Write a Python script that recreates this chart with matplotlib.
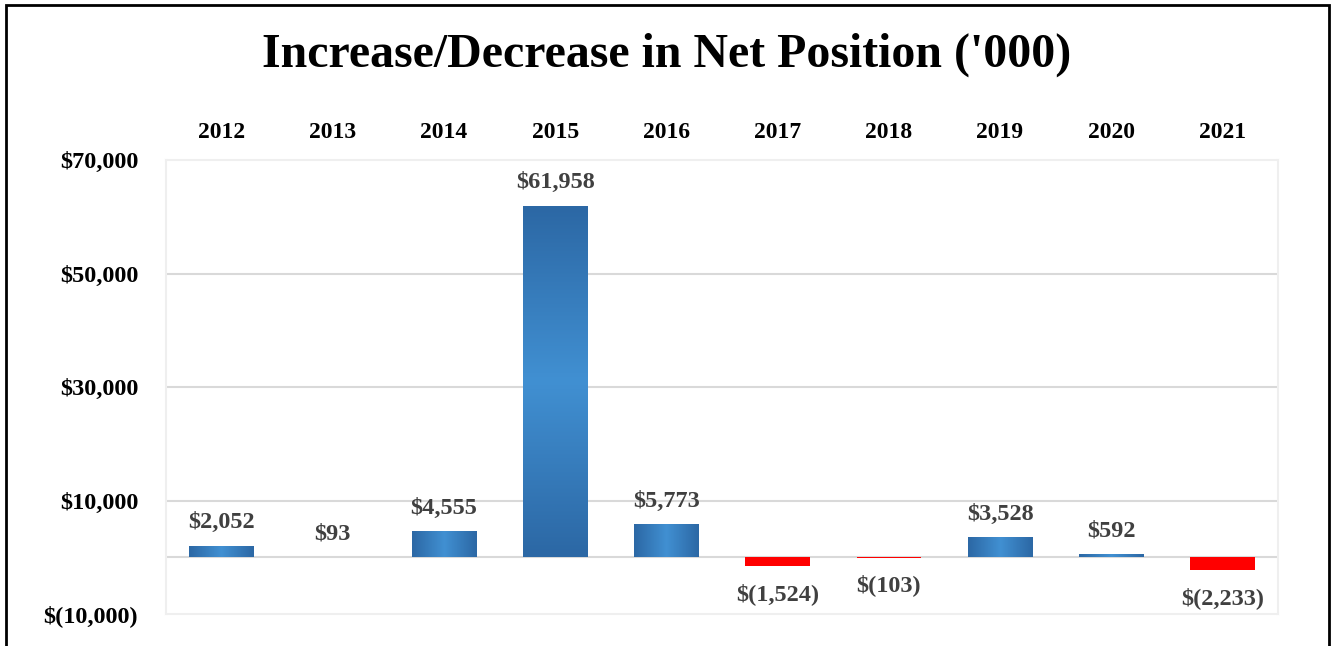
import numpy as np
import matplotlib
matplotlib.use("Agg")
import matplotlib.pyplot as plt
from matplotlib.patches import Rectangle
from matplotlib.colors import LinearSegmentedColormap

plt.rcParams['font.family'] = ['Liberation Serif', 'DejaVu Serif']
plt.rcParams['font.weight'] = 'bold'

# data ('000)
years = ['2012', '2013', '2014', '2015', '2016', '2017', '2018', '2019', '2020', '2021']
values = [2052, 93, 4555, 61958, 5773, -1524, -103, 3528, 592, -2233]
y_ticks = [-10000, 10000, 30000, 50000, 70000]


def money(v):
    if v < 0:
        return "$({:,})".format(-v)
    return "${:,}".format(v)


fig = plt.figure(figsize=(13.33, 6.46), dpi=100)
ax = fig.add_axes([166 / 1333, 1 - 614 / 646, (1278 - 166) / 1333, (614 - 160) / 646])

x = np.arange(len(years))
colors = ['#3a7fc0' if v >= 0 else '#ff0000' for v in values]
bars = ax.bar(x, values, width=0.58, color=colors, zorder=3)

# gradient fill for the blue bars (dark edges, light centre)
blue = LinearSegmentedColormap.from_list('b', ['#2c68a5', '#4190d2', '#2c68a5'])
grad = np.linspace(0, 1, 64).reshape(1, -1)
for b, v in zip(bars, values):
    if v <= 0:
        continue
    x0, y0 = b.get_x(), b.get_y()
    w, h = b.get_width(), b.get_height()
    if h > 20000:
        g = np.linspace(0, 1, 64).reshape(-1, 1)
    else:
        g = grad
    im = ax.imshow(g, cmap=blue, extent=(x0, x0 + w, y0, y0 + h),
                   aspect='auto', zorder=4, interpolation='bicubic')
    im.set_clip_path(b)

# value labels
for xi, v in zip(x, values):
    if v >= 0:
        ax.annotate(money(v), (xi, v), xytext=(0, 9), textcoords='offset points',
                    ha='center', va='bottom', fontsize=17.5, color='#404040')
    else:
        ax.annotate(money(v), (xi, v), xytext=(0, -12), textcoords='offset points',
                    ha='center', va='top', fontsize=17.5, color='#404040')

ax.set_xlim(-0.5, len(years) - 0.5)
ax.set_ylim(-10000, 70000)
ax.set_yticks(y_ticks)
ax.set_yticklabels([money(t) for t in y_ticks], fontsize=17.5)
ax.set_xticks(x)
ax.set_xticklabels(years, fontsize=17)
ax.xaxis.tick_top()
ax.tick_params(axis='x', length=0, pad=12)
ax.tick_params(axis='y', length=0, pad=20)

for t in [0, 10000, 30000, 50000]:
    ax.axhline(t, color='#d9d9d9', lw=1.5, zorder=1)
for s in ax.spines.values():
    s.set_color('#efefef')
    s.set_linewidth(1.5)

fig.suptitle("Increase/Decrease in Net Position ('000)", fontsize=34.5,
             fontweight='bold', y=1 - 55 / 646, va='center')

# outer black frame
fig.patches.append(Rectangle((6 / 1333, -0.05), (1329 - 6) / 1333, 1.05 - 5 / 646,
                             transform=fig.transFigure, fill=False,
                             edgecolor='black', lw=2))

fig.savefig('out.png', dpi=100)
